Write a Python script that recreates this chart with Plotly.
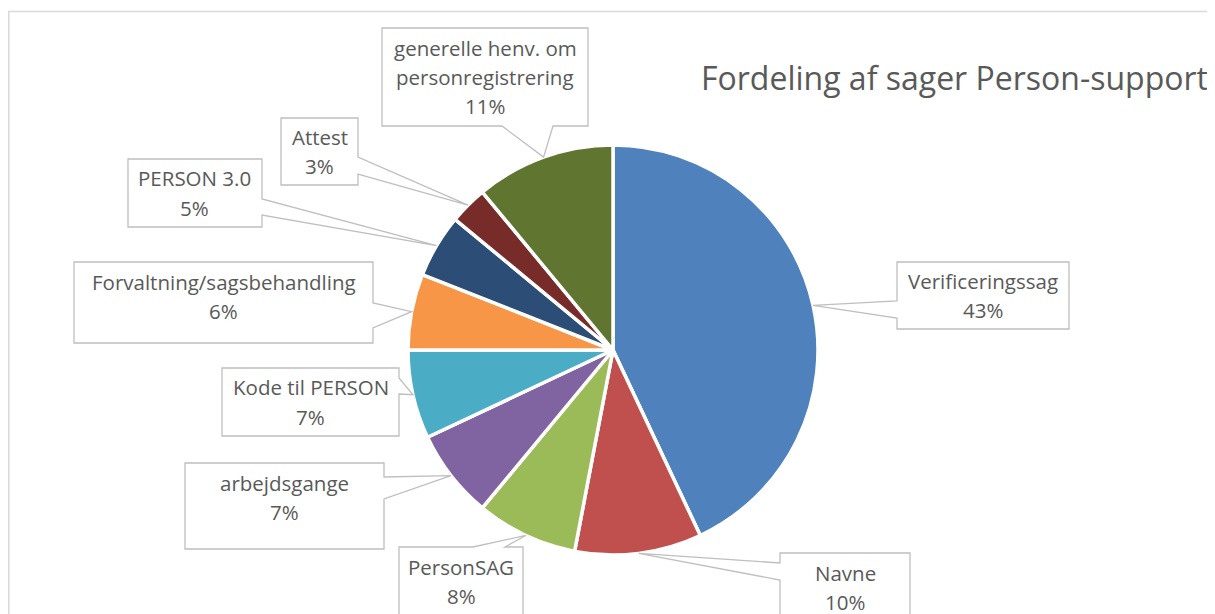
import math
import plotly.graph_objects as go

# ---- data ----
categories = ["Verificeringssag", "Navne", "PersonSAG", "arbejdsgange", "Kode til PERSON",
              "Forvaltning/sagsbehandling", "PERSON 3.0", "Attest",
              "generelle henv. om personregistrering"]
label_lines = [["Verificeringssag"], ["Navne"], ["PersonSAG"], ["arbejdsgange"], ["Kode til PERSON"],
               ["Forvaltning/sagsbehandling"], ["PERSON 3.0"], ["Attest"],
               ["generelle henv. om", "personregistrering"]]
values = [43, 10, 8, 7, 7, 6, 5, 3, 11]
colors = ["#4F81BD", "#C0504D", "#9BBB59", "#8064A2", "#4BACC6",
          "#F79646", "#2C4D75", "#772C2A", "#5F7530"]
title_text = "Fordeling af sager Person-support"

# ---- layout geometry (screen pixels of the target picture) ----
W, H = 1215, 614
OFF = 8  # page offset of the figure inside the browser window
CX, CY, R = 613, 350, 205

# callout boxes: (x0, y0, x1, y1), side of wedge, wedge base positions along that side
callouts = [
    ((897, 262, 1069, 329), "left", (301, 318)),
    ((780, 553, 910, 622), "left", (563, 580)),
    ((399, 547, 523, 616), "top", (473, 505)),
    ((185, 463, 384, 549), "right", (477, 499)),
    ((222, 368, 399, 436), "right", (378, 394)),
    ((74, 262, 373, 343), "right", (303, 328)),
    ((128, 159, 262, 227), "right", (199, 215)),
    ((281, 118, 358, 185), "right", (157, 174)),
    ((382, 28, 588, 126), "bottom", (502, 553)),
]

def px(x):
    return (x - OFF) / W

def py(y):
    return 1 - (y - OFF) / H

fig = go.Figure()
fig.add_trace(go.Pie(
    labels=categories, values=values, sort=False, direction="clockwise", rotation=0,
    marker=dict(colors=colors, line=dict(color="white", width=3.5)),
    textinfo="none", hoverinfo="label+percent", showlegend=False,
    domain=dict(x=[px(CX - R), px(CX + R)], y=[py(CY + R), py(CY - R)]),
))

total = sum(values)
shapes = []
annotations = []
cum = 0
LINE_COLOR = "#BFBFBF"
TEXT_COLOR = "#595959"
FONT = "Open Sans"
for i, v in enumerate(values):
    mid = (cum + v / 2) / total * 2 * math.pi
    cum += v
    tx = CX + R * math.sin(mid)
    ty = CY - R * math.cos(mid)
    (x0, y0, x1, y1), side, (a, b) = callouts[i]
    pts = [(x0, y0)]
    if side == "top":
        pts += [(a, y0), (tx, ty), (b, y0)]
    pts.append((x1, y0))
    if side == "right":
        pts += [(x1, a), (tx, ty), (x1, b)]
    pts.append((x1, y1))
    if side == "bottom":
        pts += [(b, y1), (tx, ty), (a, y1)]
    pts.append((x0, y1))
    if side == "left":
        pts += [(x0, b), (tx, ty), (x0, a)]
    path = "M " + " L ".join(f"{px(x):.5f},{py(y):.5f}" for x, y in pts) + " Z"
    shapes.append(dict(type="path", path=path, xref="paper", yref="paper",
                       fillcolor="white", line=dict(color=LINE_COLOR, width=1.3), layer="above"))
    lines = label_lines[i] + [f"{round(v / total * 100)}%"]
    n = len(lines)
    cxm = (x0 + x1) / 2
    cym = (y0 + min(y1, y0 + (98 if n == 3 else 69))) / 2
    spacing = 29.5
    for k, t in enumerate(lines):
        yy = cym + (k - (n - 1) / 2) * spacing
        annotations.append(dict(text=t, x=px(cxm), y=py(yy), xref="paper", yref="paper",
                                xanchor="center", yanchor="middle", showarrow=False,
                                font=dict(family=FONT, size=20.5, color=TEXT_COLOR)))

annotations.append(dict(text=title_text, x=px(699), y=py(77), xref="paper", yref="paper",
                        xanchor="left", yanchor="middle", showarrow=False,
                        font=dict(family=FONT, size=32, color=TEXT_COLOR)))

shapes.insert(0, dict(type="rect", xref="paper", yref="paper",
                      x0=px(8.8), y0=py(640), x1=px(1240), y1=py(11.5),
                      line=dict(color="#D9D9D9", width=1.5), fillcolor="rgba(0,0,0,0)", layer="below"))

fig.update_layout(
    width=W, height=H, margin=dict(l=0, r=0, t=0, b=0),
    paper_bgcolor="white", plot_bgcolor="white",
    shapes=shapes, annotations=annotations,
)
fig.write_html("out.html")
